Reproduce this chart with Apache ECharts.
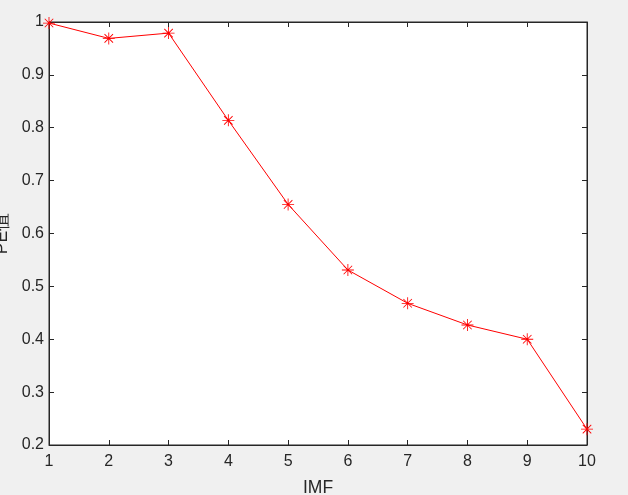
<!DOCTYPE html>
<html>
<head>
<meta charset="utf-8">
<script src="https://cdn.jsdelivr.net/npm/echarts@6/dist/echarts.min.js"></script>
<style>html,body{margin:0;padding:0;background:#f0f0f0;}#c{width:628px;height:495px;}</style>
</head>
<body>
<div id="c"></div>
<script>
const imf = [1, 2, 3, 4, 5, 6, 7, 8, 9, 10];
const peValues = [0.998, 0.969, 0.979, 0.814, 0.655, 0.531, 0.468, 0.427, 0.400, 0.230];
const yTicks = [0.2, 0.3, 0.4, 0.5, 0.6, 0.7, 0.8, 0.9, 1];

const chart = echarts.init(document.getElementById('c'));
const axisCol = '#262626';
const font = {fontFamily: 'Liberation Sans, Arial, sans-serif', fontSize: 16, color: axisCol};
const titleFont = {fontFamily: 'Liberation Sans, Arial, sans-serif', fontSize: 17.5, color: axisCol};
const star = 'path://M9.3,0 h1.4 v20 h-1.4 z M0,9.3 h20 v1.4 h-20 z M3.4,2.4 L17.6,16.6 L16.6,17.6 L2.4,3.4 z M16.6,2.4 L17.6,3.4 L3.4,17.6 L2.4,16.6 z';
chart.setOption({
  backgroundColor: '#f0f0f0',
  animation: false,
  grid: {left: 49, right: 41, top: 22, bottom: 50, containLabel: false, outerBoundsMode: 'none', show: true, backgroundColor: '#fff', borderColor: axisCol, borderWidth: 1},
  xAxis: [{
    type: 'value', min: 1, max: 10, interval: 1, position: 'bottom',
    name: 'IMF', nameLocation: 'middle', nameGap: 34, nameTextStyle: titleFont,
    axisLine: {show: true, lineStyle: {color: axisCol}},
    axisTick: {show: true, inside: true, length: 5, lineStyle: {color: axisCol}},
    axisLabel: Object.assign({margin: 9}, font),
    splitLine: {show: false}
  }, {
    type: 'value', min: 1, max: 10, interval: 1, position: 'top',
    axisLine: {show: true, lineStyle: {color: axisCol}},
    axisTick: {show: true, inside: true, length: 5, lineStyle: {color: axisCol}},
    axisLabel: {show: false}, splitLine: {show: false}
  }],
  yAxis: [{
    type: 'value', min: 0.2, max: 1, interval: 0.1, position: 'left',
    name: 'PE值', nameLocation: 'middle', nameGap: 31, nameTextStyle: titleFont,
    axisLine: {show: true, lineStyle: {color: axisCol}},
    axisTick: {show: true, inside: true, length: 5, lineStyle: {color: axisCol}},
    axisLabel: Object.assign({margin: 5, formatter: v => yTicks.find(t => Math.abs(t - v) < 1e-6) !== undefined ? String(+v.toFixed(1)) : ''}, font),
    splitLine: {show: false}
  }, {
    type: 'value', min: 0.2, max: 1, interval: 0.1, position: 'right',
    axisLine: {show: true, lineStyle: {color: axisCol}},
    axisTick: {show: true, inside: true, length: 5, lineStyle: {color: axisCol}},
    axisLabel: {show: false}, splitLine: {show: false}
  }],
  series: [{
    type: 'line',
    data: imf.map((x, i) => [x, peValues[i]]),
    symbol: star, symbolSize: 12, showAllSymbol: true,
    itemStyle: {color: '#ff0000'},
    lineStyle: {color: '#ff0000', width: 1},
    clip: false
  }]
});
</script>
</body>
</html>
